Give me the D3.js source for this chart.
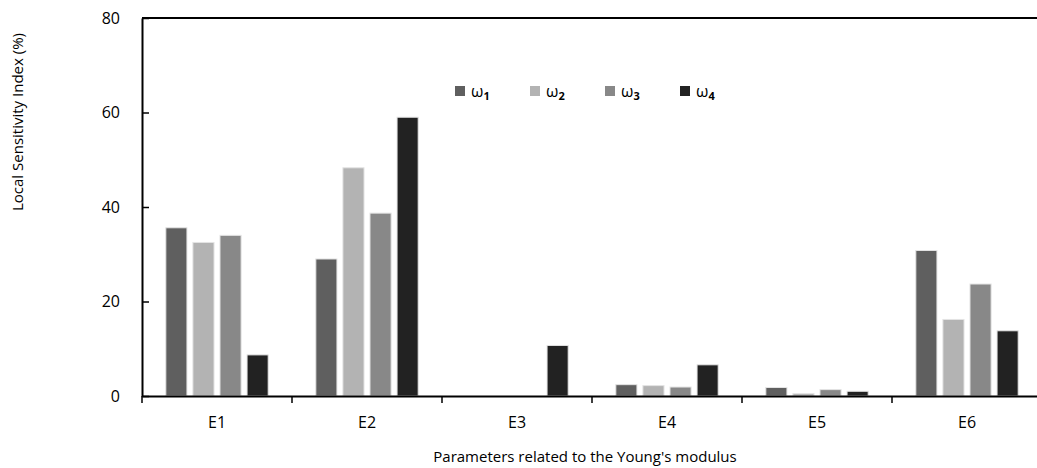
<!DOCTYPE html>
<html>
<head>
<meta charset="utf-8">
<script src="https://cdn.jsdelivr.net/npm/d3@7"></script>
<style>
  body { margin: 0; background: #fff; }
  svg { font-family: "Open Sans", sans-serif; }
</style>
</head>
<body>
<svg id="chart" width="1037" height="468"></svg>
<script>

let categories = ["E1", "E2", "E3", "E4", "E5", "E6"];
let series = ["ω1", "ω2", "ω3", "ω4"];
let seriesColors = ["#5f5f5f", "#b3b3b3", "#888888", "#222222"];

// one array per series, in category order
let w1 = [35.6, 29.0, 0, 2.4, 1.8, 30.8];
let w2 = [32.5, 48.3, 0, 2.2, 0.5, 16.2];
let w3 = [34.0, 38.7, 0, 1.9, 1.35, 23.7];
let w4 = [8.7, 59.0, 10.7, 6.6, 1.0, 13.8];
let values = [w1, w2, w3, w4];

let yTicks = [0, 20, 40, 60, 80];

let svg = d3.select("#chart");

let xScale = d3.scaleBand()
    .domain(categories)
    .range([142, 1042]);

let xInner = d3.scaleBand()
    .domain(series)
    .range([0, xScale.bandwidth()])
    .paddingInner(0.22)
    .paddingOuter(0.88);

let yScale = d3.scaleLinear()
    .domain([0, 80])
    .range([396, 18]);

// bars
let groups = svg.append("g")
    .selectAll("g")
    .data(categories)
    .join("g")
    .attr("transform", d => "translate(" + xScale(d) + ",0)");

groups.selectAll("rect")
    .data((c, i) => series.map((s, k) => ({ s: s, k: k, v: values[k][i] })))
    .join("rect")
    .attr("x", d => xInner(d.s))
    .attr("width", xInner.bandwidth())
    .attr("y", d => yScale(d.v))
    .attr("height", d => yScale(0) - yScale(d.v))
    .style("fill", d => seriesColors[d.k])
    .style("stroke", "#e4e4e4")
    .style("stroke-width", "1px");

// y axis, ticks pointing inside
let leftAxis = d3.axisLeft(yScale)
    .tickValues(yTicks)
    .tickSize(-7)
    .tickSizeOuter(0)
    .tickPadding(22);

let yg = svg.append("g")
    .attr("transform", "translate(142,0)")
    .call(leftAxis);
yg.select(".domain").style("stroke", "#000").style("stroke-width", "2px");
yg.selectAll(".tick line").style("stroke", "#000").style("stroke-width", "1.5px");
yg.selectAll(".tick text")
    .style("font-family", "Open Sans")
    .style("font-size", "16px")
    .style("fill", "#000");

// top frame line
svg.append("line")
    .attr("x1", xScale.range()[0])
    .attr("x2", xScale.range()[1])
    .attr("y1", yScale(80))
    .attr("y2", yScale(80))
    .style("stroke", "#000")
    .style("stroke-width", "2px");

// x axis with labels at band centres
let bottomAxis = d3.axisBottom(xScale)
    .tickSize(0)
    .tickPadding(21);

let xg = svg.append("g")
    .attr("transform", "translate(0," + yScale(0) + ")")
    .call(bottomAxis);
xg.select(".domain").style("stroke", "#000").style("stroke-width", "2px");
xg.selectAll(".tick text")
    .style("font-family", "Open Sans")
    .style("font-size", "16px")
    .style("fill", "#000");

// x ticks at band edges
let edges = categories.map(c => xScale(c)).concat([xScale.range()[1]]);
svg.append("g")
    .selectAll("line")
    .data(edges)
    .join("line")
    .attr("x1", d => d)
    .attr("x2", d => d)
    .attr("y1", yScale(0))
    .attr("y2", yScale(0) + 7)
    .style("stroke", "#000")
    .style("stroke-width", "1.5px");

// axis titles
svg.append("text")
    .attr("x", 585)
    .attr("y", 462)
    .attr("text-anchor", "middle")
    .style("font-size", "15px")
    .style("fill", "#000")
    .text("Parameters related to the Young's modulus");

svg.append("text")
    .attr("transform", "translate(23,122) rotate(-90)")
    .attr("text-anchor", "middle")
    .style("font-size", "15px")
    .style("fill", "#000")
    .text("Local Sensitivity Index (%)");

// legend
let legend = svg.append("g")
    .selectAll("g")
    .data(series)
    .join("g")
    .attr("transform", (d, i) => "translate(" + (455 + i * 75) + ",86)");

legend.append("rect")
    .attr("width", 10)
    .attr("height", 10)
    .style("fill", (d, i) => seriesColors[i]);

let lt = legend.append("text")
    .attr("x", 16)
    .attr("y", 11)
    .style("font-size", "16px")
    .style("fill", "#000");
lt.append("tspan").text(d => d.charAt(0));
lt.append("tspan")
    .attr("dy", 3)
    .style("font-size", "11px")
    .style("font-weight", "bold")
    .text(d => d.slice(1));

</script>
</body>
</html>
